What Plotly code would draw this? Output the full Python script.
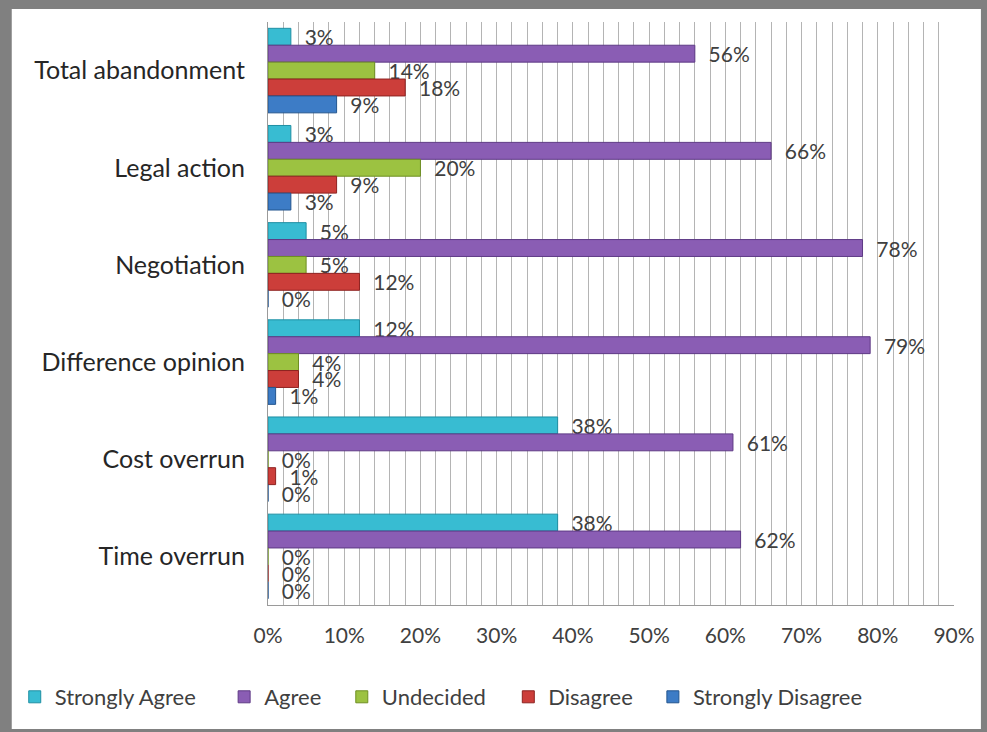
import plotly.graph_objects as go

categories = ["Total abandonment", "Legal action", "Negotiation",
              "Difference opinion", "Cost overrun", "Time overrun"]
series_names = ["Strongly Agree", "Agree", "Undecided", "Disagree", "Strongly Disagree"]
strongly_agree = [3, 3, 5, 12, 38, 38]
agree = [56, 66, 78, 79, 61, 62]
undecided = [14, 20, 5, 4, 0, 0]
disagree = [18, 9, 12, 4, 1, 0]
strongly_disagree = [9, 3, 0, 1, 0, 0]
x_ticks = [0, 10, 20, 30, 40, 50, 60, 70, 80, 90]
x_tick_labels = [f"{v}%" for v in x_ticks]

series_values = [strongly_agree, agree, undecided, disagree, strongly_disagree]
colors = ["#38BCD2", "#8A5DB4", "#9CC241", "#CC3E3A", "#3D7CC6"]
edges = ["#1E8FA3", "#5E3A85", "#6E8F22", "#8E2220", "#23558F"]
legend_ids = ["legend", "legend2", "legend3", "legend4", "legend5"]
legend_left_px = [14, 224, 342, 509, 654]

FONT = "Lato"
fig = go.Figure()
for name, vals, c, e, lid in zip(series_names, series_values, colors, edges, legend_ids):
    fig.add_trace(go.Bar(
        y=categories, x=vals, name=name, orientation="h",
        marker=dict(color=c, line=dict(color=e, width=1)),
        text=[f"\u00a0\u00a0{v}%" for v in vals], textposition="outside",
        constraintext="none",
        textfont=dict(family=FONT, size=21, color="#404040"),
        cliponaxis=False, legend=lid,
    ))

L, R, T, B = 268, 31, 22, 127
W, H = 987, 732
pw, ph = W - L - R, H - T - B

def px(xp):
    return (xp - L) / pw

def py(yp):
    return (H - B - yp) / ph

legends = {}
for lid, lx in zip(legend_ids, legend_left_px):
    legends[lid] = dict(orientation="h", x=px(lx), y=py(697), yanchor="middle", xanchor="left",
                        font=dict(family=FONT, size=22, color="#404040"),
                        itemwidth=30, bgcolor="rgba(0,0,0,0)")

fig.update_layout(
    width=W, height=H,
    margin=dict(l=L, r=R, t=T, b=B),
    barmode="group", bargap=0.13, bargroupgap=0,
    paper_bgcolor="#808080", plot_bgcolor="white",
    font=dict(family=FONT, color="#404040"),
    showlegend=True,
    shapes=[dict(type="rect", xref="paper", yref="paper",
                 x0=px(11), x1=px(983), y0=py(729), y1=py(9),
                 fillcolor="white", line=dict(width=0), layer="below")],
    **legends,
)
fig.update_xaxes(
    range=[0, 90], tickmode="array", tickvals=x_ticks, ticktext=x_tick_labels,
    showgrid=True, gridcolor="#B4B4B4", gridwidth=1,
    minor=dict(dtick=2, showgrid=True, gridcolor="#B4B4B4", gridwidth=1),
    showline=True, linecolor="#9A9A9A", linewidth=1,
    ticks="", ticklabelstandoff=12, zeroline=False,
    tickfont=dict(family=FONT, size=21, color="#404040"),
)
fig.update_yaxes(
    autorange="reversed", showline=True, linecolor="#9A9A9A", linewidth=1,
    ticks="", ticklabelstandoff=17,
    tickfont=dict(family=FONT, size=25, color="#262626"),
)
fig.write_html("out.html", config={"displayModeBar": False},
               post_script="document.body.style.margin='0';document.body.style.overflow='hidden';")
